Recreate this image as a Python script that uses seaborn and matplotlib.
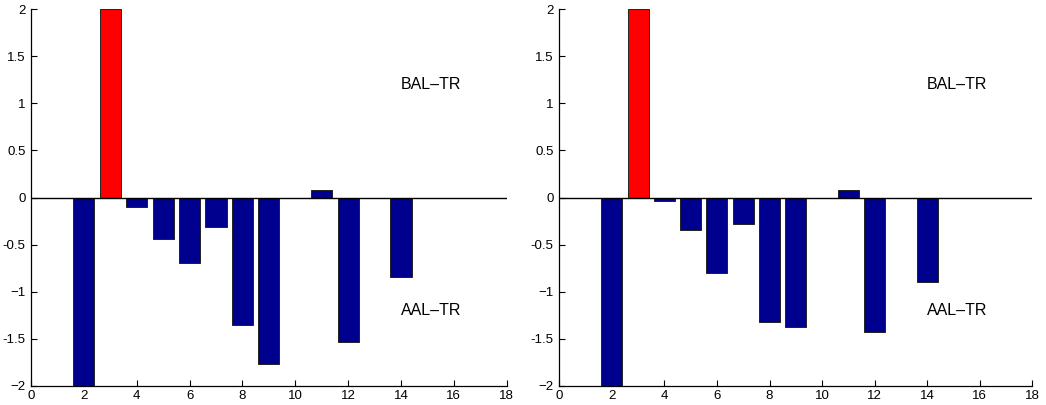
import matplotlib
matplotlib.use("Agg")
import matplotlib.pyplot as plt
import seaborn as sns
import pandas as pd

# ---- data ----
positions = list(range(1, 18))
left_values = [0.0, -2.0, 2.0, -0.10, -0.44, -0.70, -0.31, -1.36, -1.77,
               0.0, 0.08, -1.54, 0.0, -0.85, 0.0, 0.0, 0.0]
right_values = [0.0, -2.0, 2.0, -0.035, -0.35, -0.80, -0.28, -1.32, -1.38,
                0.0, 0.075, -1.43, 0.0, -0.90, 0.0, 0.0, 0.0]
bar_groups = ["neg", "neg", "pos", "neg", "neg", "neg", "neg", "neg", "neg",
              "neg", "neg", "neg", "neg", "neg", "neg", "neg", "neg"]
palette = {"pos": "#FF0000", "neg": "#00008F"}
label_top = "BAL\u2013TR"
label_bottom = "AAL\u2013TR"
xticks = [0, 2, 4, 6, 8, 10, 12, 14, 16, 18]
yticks = [-2, -1.5, -1, -0.5, 0, 0.5, 1, 1.5, 2]
ytick_labels = ["\u22122", "-1.5", "\u22121", "-0.5", "0", "0.5", "1", "1.5", "2"]

sns.set_style("ticks")
plt.rcParams["font.family"] = ["Liberation Sans", "DejaVu Sans"]
plt.rcParams["text.color"] = "black"
plt.rcParams["xtick.color"] = "black"
plt.rcParams["ytick.color"] = "black"
plt.rcParams["xtick.labelcolor"] = "black"
plt.rcParams["ytick.labelcolor"] = "black"

W, H = 1046, 405
fig = plt.figure(figsize=(W / 100, H / 100), dpi=100)

axes_px = [(31, 475.7), (559.3, 473)]
for (x0, w), vals in zip(axes_px, [left_values, right_values]):
    ax = fig.add_axes([x0 / W, (H - 385.7) / H, w / W, 376.4 / H])
    df = pd.DataFrame({"x": positions, "y": vals, "g": bar_groups})
    sns.barplot(data=df, x="x", y="y", hue="g", palette=palette,
                native_scale=True, dodge=False, width=0.8, legend=False,
                saturation=1, edgecolor="#222222", linewidth=0.7, ax=ax)
    ax.axhline(0, color="black", lw=1.0, zorder=3)
    ax.set_xlim(0, 18)
    ax.set_ylim(-2, 2)
    ax.set_xticks(xticks)
    ax.set_xticklabels([str(t) for t in xticks])
    ax.set_yticks(yticks)
    ax.set_yticklabels(ytick_labels)
    ax.set_xlabel("")
    ax.set_ylabel("")
    ax.tick_params(direction="in", length=4, width=0.8, labelsize=9.5)
    ax.tick_params(axis="y", pad=4)
    ax.tick_params(axis="x", pad=3)
    for s in ["top", "right"]:
        ax.spines[s].set_visible(False)
    for s in ["left", "bottom"]:
        ax.spines[s].set_linewidth(0.9)
        ax.spines[s].set_color("black")
    ax.text(14, 1.2, label_top, ha="left", va="center", fontsize=11.5)
    ax.text(14, -1.2, label_bottom, ha="left", va="center", fontsize=11.5)

fig.savefig("out.png", dpi=100)
